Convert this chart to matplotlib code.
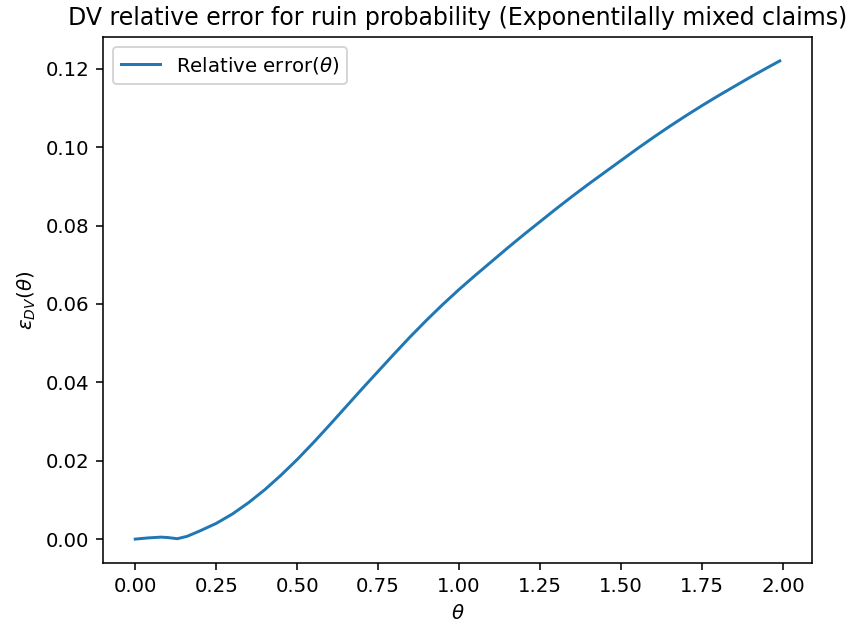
import matplotlib
matplotlib.use("Agg")
import matplotlib.pyplot as plt

theta = [0.00, 0.04, 0.08, 0.10, 0.13, 0.16, 0.20, 0.25, 0.30, 0.35,
         0.40, 0.45, 0.50, 0.55, 0.60, 0.65, 0.70, 0.75, 0.80, 0.85,
         0.90, 0.95, 1.00, 1.05, 1.10, 1.15, 1.20, 1.25, 1.30, 1.35,
         1.40, 1.45, 1.50, 1.55, 1.60, 1.65, 1.70, 1.75, 1.80, 1.85,
         1.90, 1.95, 1.99]
rel_err = [0.0000, 0.0003, 0.0005, 0.0004, 0.0001, 0.0007, 0.0021, 0.0040, 0.0064, 0.0093,
           0.0126, 0.0163, 0.0203, 0.0246, 0.0291, 0.0337, 0.0383, 0.0428, 0.0473, 0.0517,
           0.0559, 0.0599, 0.0637, 0.0673, 0.0708, 0.0743, 0.0777, 0.0810, 0.0843, 0.0875,
           0.0906, 0.0936, 0.0966, 0.0996, 0.1025, 0.1053, 0.1080, 0.1106, 0.1131, 0.1155,
           0.1179, 0.1202, 0.1220]

fig = plt.figure(figsize=(854 / 142, 631 / 142), dpi=142)
ax = fig.add_axes([103 / 854, 1 - 563 / 631, 709 / 854, 526 / 631])
ax.plot(theta, rel_err, label=r"Relative error($\theta$)")
ax.set_title("DV relative error for ruin probability (Exponentilally mixed claims)")
ax.set_xlabel(r"$\theta$")
ax.set_ylabel(r"$\epsilon_{DV}(\theta)$")
ax.legend(loc="upper left")

fig.savefig("out.png", dpi=142)
